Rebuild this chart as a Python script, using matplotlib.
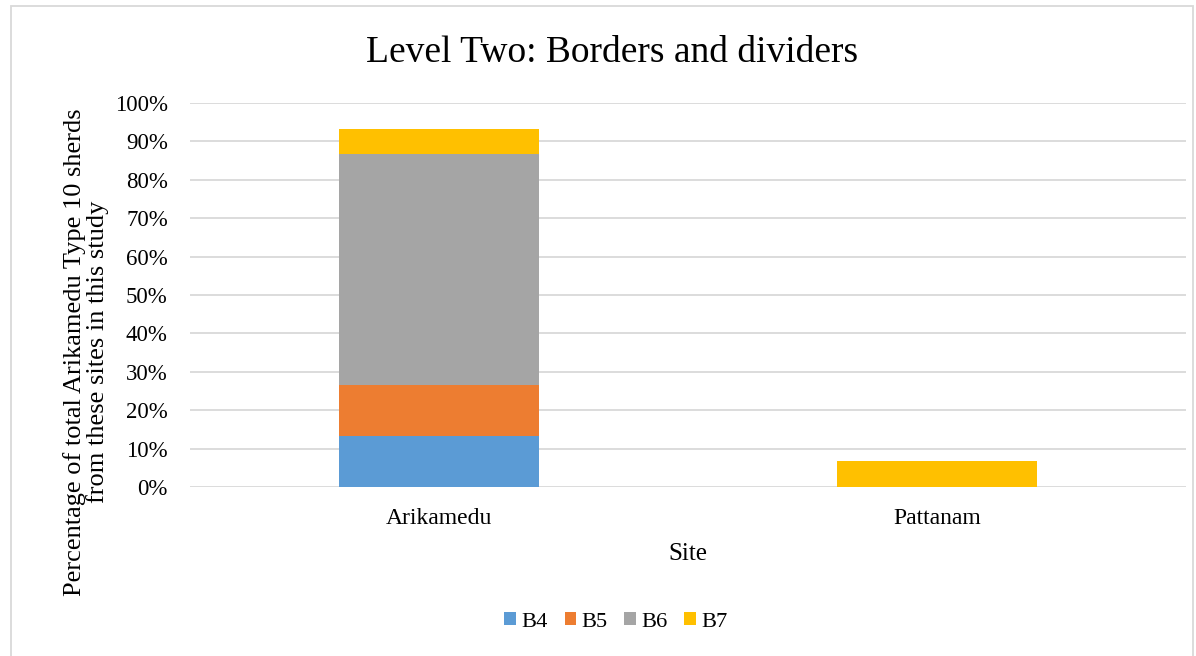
import numpy as np
import matplotlib.pyplot as plt
from matplotlib.patches import Rectangle

# data - share of total Arikamedu Type 10 sherds (15 sherds)
sites = ["Arikamedu", "Pattanam"]
series = ["B4", "B5", "B6", "B7"]
B4 = [2 / 15, 0.0]
B5 = [2 / 15, 0.0]
B6 = [9 / 15, 0.0]
B7 = [1 / 15, 1 / 15]
colours = ["#5b9bd5", "#ed7d31", "#a5a5a5", "#ffc000"]

plt.rcParams['font.family'] = ['Liberation Serif', 'DejaVu Serif']

W, H = 1196, 656
fig = plt.figure(figsize=(W / 100, H / 100), dpi=100)
ax = fig.add_axes([190 / W, 1 - 487 / H, (1186 - 190) / W, (487 - 103) / H])

x = np.arange(len(sites))
bottom = np.zeros(len(sites))
for name, vals, col in zip(series, [B4, B5, B6, B7], colours):
    ax.bar(x, vals, width=0.4, bottom=bottom, color=col, label=name, zorder=3)
    bottom += np.array(vals)

ticks = np.arange(0, 1.01, 0.1)
ax.set_xlim(-0.5, 1.5)
ax.set_ylim(0, 1.0)
ax.set_yticks(ticks)
ax.set_yticklabels([f"{int(round(t * 100))}%" for t in ticks], fontsize=16.5)
ax.set_xticks(x)
ax.set_xticklabels(sites, fontsize=17)
ax.tick_params(axis='y', length=0, pad=16)
ax.tick_params(axis='x', length=0, pad=15)
ax.grid(axis='y', color='#d9d9d9', linewidth=1.3, zorder=0)
for s in ax.spines.values():
    s.set_visible(False)

fig.text(612 / W, 1 - 62 / H, "Level Two: Borders and dividers", ha='center', va='baseline', fontsize=27)
fig.text(688 / W, 1 - 560 / H, "Site", ha='center', va='baseline', fontsize=18)
fig.text(86 / W, 1 - 352 / H, "Percentage of total Arikamedu Type 10 sherds\nfrom these sites in this study",
         ha='center', va='center', rotation=90, fontsize=19, linespacing=1.05)

fig.legend(loc='center', bbox_to_anchor=(616 / W, 1 - 622 / H), ncol=4, frameon=False,
           fontsize=16.2, handlelength=0.53, handleheight=0.53, handletextpad=0.22,
           columnspacing=0.75, borderpad=0)

fig.patches.append(Rectangle((11 / W, -0.01), (1193 - 11) / W, 1 - 6 / H + 0.01,
                             transform=fig.transFigure, fill=False, edgecolor='#d9d9d9', linewidth=1.3))

fig.savefig("out.png", dpi=100)
